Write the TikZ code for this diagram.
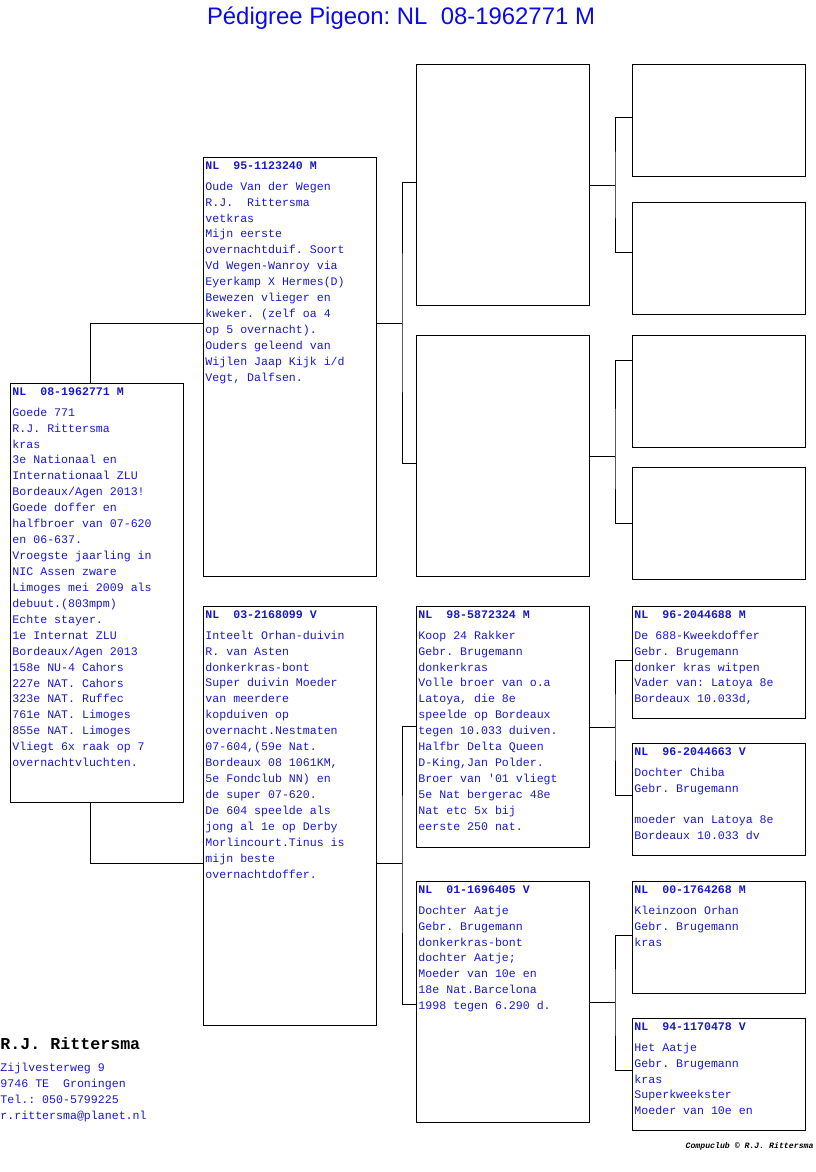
\documentclass[tikz,border=0pt]{standalone}
\usepackage{fontspec}
\setmainfont{Liberation Sans}
\newfontfamily\pedmono{Liberation Mono}
\definecolor{pedblue}{RGB}{25,25,200}
\definecolor{titleblue}{RGB}{10,10,235}
\frenchspacing
\begin{document}
\begin{tikzpicture}[x=0.03cm, y=-0.03cm, line width=0.8pt,
  pbox/.style={draw, anchor=north west, inner sep=0, minimum width=5.19cm},
  ptxt/.style={anchor=north west, align=left, inner sep=0, text=pedblue, font=\pedmono\fontsize{9.9}{13.6}\selectfont},
  link/.style={draw, line width=0.8pt}]
  \useasboundingbox (0,0) rectangle (816,1172);
  \node[font=\fontsize{20.4}{24}\selectfont, text=titleblue] (title) at (401,18) {Pédigree Pigeon: NL\ \ 08-1962771 M};
  % generation 1 and 2
  \node[pbox, minimum height=12.57cm] (subj) at (10,383) {};
  \node[pbox, minimum height=12.57cm] (sire) at (203,157) {};
  \node[pbox, minimum height=12.57cm] (dam) at (203,606) {};
  % generation 3
  \node[pbox, minimum height=7.23cm] (ss) at (416,64) {};
  \node[pbox, minimum height=7.23cm] (sd) at (416,335) {};
  \node[pbox, minimum height=7.23cm] (ds) at (416,606) {};
  \node[pbox, minimum height=7.23cm] (dd) at (416,881) {};
  % generation 4
  \node[pbox, minimum height=3.36cm] (sss) at (632,64) {};
  \node[pbox, minimum height=3.36cm] (ssd) at (632,202) {};
  \node[pbox, minimum height=3.36cm] (sds) at (632,335) {};
  \node[pbox, minimum height=3.36cm] (sdd) at (632,467) {};
  \node[pbox, minimum height=3.36cm] (dss) at (632,606) {};
  \node[pbox, minimum height=3.36cm] (dsd) at (632,743) {};
  \node[pbox, minimum height=3.36cm] (dds) at (632,881) {};
  \node[pbox, minimum height=3.36cm] (ddd) at (632,1018) {};
  % texts
  \node[ptxt] (subj-t) at ([xshift=0.06cm,yshift=-0.12cm]subj.north west) {\textbf{NL\ \ 08-1962771 M}\\[4.25pt]
    Goede 771\\ R.J. Rittersma\\ kras\\ 3e Nationaal en\\ Internationaal ZLU\\ Bordeaux/Agen 2013!\\
    Goede doffer en\\ halfbroer van 07-620\\ en 06-637.\\ Vroegste jaarling in\\ NIC Assen zware\\
    Limoges mei 2009 als\\ debuut.(803mpm)\\ Echte stayer.\\ 1e Internat ZLU\\ Bordeaux/Agen 2013\\
    158e NU-4 Cahors\\ 227e NAT. Cahors\\ 323e NAT. Ruffec\\ 761e NAT. Limoges\\ 855e NAT. Limoges\\
    Vliegt 6x raak op 7\\ overnachtvluchten.};
  \node[ptxt] (sire-t) at ([xshift=0.06cm,yshift=-0.12cm]sire.north west) {\textbf{NL\ \ 95-1123240 M}\\[4.25pt]
    Oude Van der Wegen\\ R.J.\ \ Rittersma\\ vetkras\\ Mijn eerste\\ overnachtduif. Soort\\
    Vd Wegen-Wanroy via\\ Eyerkamp X Hermes(D)\\ Bewezen vlieger en\\ kweker. (zelf oa 4\\
    op 5 overnacht).\\ Ouders geleend van\\ Wijlen Jaap Kijk i/d\\ Vegt, Dalfsen.};
  \node[ptxt] (dam-t) at ([xshift=0.06cm,yshift=-0.12cm]dam.north west) {\textbf{NL\ \ 03-2168099 V}\\[4.25pt]
    Inteelt Orhan-duivin\\ R. van Asten\\ donkerkras-bont\\ Super duivin Moeder\\ van meerdere\\
    kopduiven op\\ overnacht.Nestmaten\\ 07-604,(59e Nat.\\ Bordeaux 08 1061KM,\\ 5e Fondclub NN) en\\
    de super 07-620.\\ De 604 speelde als\\ jong al 1e op Derby\\ Morlincourt.Tinus is\\ mijn beste\\
    overnachtdoffer.};
  \node[ptxt] (ds-t) at ([xshift=0.06cm,yshift=-0.12cm]ds.north west) {\textbf{NL\ \ 98-5872324 M}\\[4.25pt]
    Koop 24 Rakker\\ Gebr. Brugemann\\ donkerkras\\ Volle broer van o.a\\ Latoya, die 8e\\
    speelde op Bordeaux\\ tegen 10.033 duiven.\\ Halfbr Delta Queen\\ D-King,Jan Polder.\\
    Broer van \textquotesingle 01 vliegt\\ 5e Nat bergerac 48e\\ Nat etc 5x bij\\ eerste 250 nat.};
  \node[ptxt] (dd-t) at ([xshift=0.06cm,yshift=-0.12cm]dd.north west) {\textbf{NL\ \ 01-1696405 V}\\[4.25pt]
    Dochter Aatje\\ Gebr. Brugemann\\ donkerkras-bont\\ dochter Aatje;\\ Moeder van 10e en\\
    18e Nat.Barcelona\\ 1998 tegen 6.290 d.};
  \node[ptxt] (dss-t) at ([xshift=0.06cm,yshift=-0.12cm]dss.north west) {\textbf{NL\ \ 96-2044688 M}\\[4.25pt]
    De 688-Kweekdoffer\\ Gebr. Brugemann\\ donker kras witpen\\ Vader van: Latoya 8e\\ Bordeaux 10.033d,};
  \node[ptxt] (dsd-t) at ([xshift=0.06cm,yshift=-0.12cm]dsd.north west) {\textbf{NL\ \ 96-2044663 V}\\[4.25pt]
    Dochter Chiba\\ Gebr. Brugemann\\[13.6pt] moeder van Latoya 8e\\ Bordeaux 10.033 dv};
  \node[ptxt] (dds-t) at ([xshift=0.06cm,yshift=-0.12cm]dds.north west) {\textbf{NL\ \ 00-1764268 M}\\[4.25pt]
    Kleinzoon Orhan\\ Gebr. Brugemann\\ kras};
  \node[ptxt] (ddd-t) at ([xshift=0.06cm,yshift=-0.12cm]ddd.north west) {\textbf{NL\ \ 94-1170478 V}\\[4.25pt]
    Het Aatje\\ Gebr. Brugemann\\ kras\\ Superkweekster\\ Moeder van 10e en};
  % connectors
  \coordinate (j1) at (90,323);
  \draw[link] (subj.north -| j1) |- (sire.west |- j1);
  \draw[link] (subj.south -| j1) |- (dam.west |- 0,863);
  \coordinate (js) at (402,323);
  \draw[link] (sire.east |- js) -- (js);
  \draw[link] (ss.west |- 0,182) -| (js) |- (sd.west |- 0,463);
  \coordinate (jd) at (402,863);
  \draw[link] (dam.east |- jd) -- (jd);
  \draw[link] (ds.west |- 0,726) -| (jd) |- (dd.west |- 0,1004);
  \coordinate (jss) at (615,185);
  \draw[link] (ss.east |- jss) -- (jss);
  \draw[link] (sss.west |- 0,117) -| (jss) |- (ssd.west |- 0,252);
  \coordinate (jsd) at (615,456);
  \draw[link] (sd.east |- jsd) -- (jsd);
  \draw[link] (sds.west |- 0,360) -| (jsd) |- (sdd.west |- 0,523);
  \coordinate (jds) at (615,727);
  \draw[link] (ds.east |- jds) -- (jds);
  \draw[link] (dss.west |- 0,660) -| (jds) |- (dsd.west |- 0,795);
  \coordinate (jdd) at (615,1002);
  \draw[link] (dd.east |- jdd) -- (jdd);
  \draw[link] (dds.west |- 0,935) -| (jdd) |- (ddd.west |- 0,1070);
  % breeder
  \node[anchor=west, inner sep=0, font=\pedmono\bfseries\fontsize{14.2}{16}\selectfont] (breeder) at (0,1044) {R.J. Rittersma};
  \node[ptxt] (addr) at (0,1063) {Zijlvesterweg 9\\ 9746 TE\ \ Groningen\\ Tel.: 050-5799225\\ r.rittersma@planet.nl};
  \node[anchor=east, inner sep=0, font=\pedmono\bfseries\itshape\fontsize{7}{8}\selectfont] (copy) at (814,1146) {Compuclub © R.J. Rittersma};
\end{tikzpicture}
\end{document}
